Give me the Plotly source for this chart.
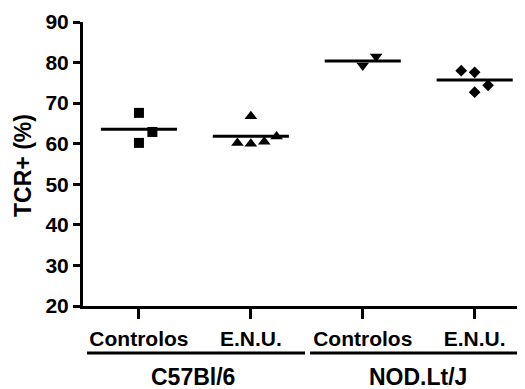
import numpy as np
import plotly.graph_objects as go

categories = ["Controlos", "E.N.U.", "Controlos", "E.N.U."]
groups = ["C57Bl/6", "NOD.Lt/J"]
c57_controlos = [67.6, 62.9, 60.2]
c57_enu = [66.8, 60.2, 60.0, 60.5, 61.8]
nod_controlos = [81.5, 79.3]
nod_enu = [78.0, 77.6, 74.4, 72.7]
y_ticks = [20, 30, 40, 50, 60, 70, 80, 90]

series = [c57_controlos, c57_enu, nod_controlos, nod_enu]
offsets = [
    [0.0, 0.12, 0.0],
    [0.0, -0.12, 0.0, 0.12, 0.23],
    [0.12, 0.0],
    [-0.12, 0.0, 0.12, 0.0],
]
symbols = ["square", "triangle-up", "triangle-down", "diamond"]
sizes = [10, 11, 11, 9]

fig = go.Figure()
for i, (vals, offs) in enumerate(zip(series, offsets)):
    fig.add_trace(go.Scatter(
        x=[i + o for o in offs], y=vals, mode="markers",
        marker=dict(symbol=symbols[i], size=sizes[i], color="black", line=dict(width=0)),
        showlegend=False, hoverinfo="y"))
    m = float(np.mean(vals))
    fig.add_trace(go.Scatter(
        x=[i - 0.34, i + 0.34], y=[m, m], mode="lines",
        line=dict(color="black", width=3), showlegend=False, hoverinfo="skip"))

font = dict(family="Liberation Sans, Arial, sans-serif", size=21, color="black")

# the page body adds an 8px offset, so the figure is sized to fill the rest
fig.update_layout(
    width=517, height=381,
    margin=dict(l=75, r=0, t=14, b=83),
    paper_bgcolor="white", plot_bgcolor="white",
    font=font,
    xaxis=dict(
        range=[-0.5, 3.45], tickmode="array", tickvals=[0, 1, 2, 3],
        ticktext=["<b>%s</b>" % c for c in categories],
        showgrid=False, zeroline=False, showline=True, linecolor="black", linewidth=3,
        ticks="outside", ticklen=10, tickwidth=3, tickcolor="black",
        tickfont=dict(size=21), ticklabelstandoff=2),
    yaxis=dict(
        range=[20, 90], tickmode="array", tickvals=y_ticks,
        ticktext=["<b>%d</b>" % t for t in y_ticks],
        showgrid=False, zeroline=False, showline=True, linecolor="black", linewidth=3,
        ticks="outside", ticklen=7, tickwidth=3, tickcolor="black",
        tickfont=dict(size=21)),
)

# group underlines
fig.add_shape(type="line", xref="x", yref="paper", x0=-0.464, x1=1.484, y0=-0.1655, y1=-0.1655,
              line=dict(color="black", width=3))
fig.add_shape(type="line", xref="x", yref="paper", x0=1.529, x1=3.45, y0=-0.1655, y1=-0.1655,
              line=dict(color="black", width=3))
for gx, g in zip([0.483, 2.494], groups):
    fig.add_annotation(x=gx, y=-0.25, xref="x", yref="paper", text="<b>%s</b>" % g,
                       showarrow=False, xanchor="center", yanchor="middle", font=dict(size=23))

fig.add_annotation(x=-0.1346, y=0.495, xref="paper", yref="paper", text="<b>TCR+ (%)</b>",
                   textangle=-90, showarrow=False, xanchor="center", yanchor="middle",
                   font=dict(size=23))

fig.write_html("out.html")
